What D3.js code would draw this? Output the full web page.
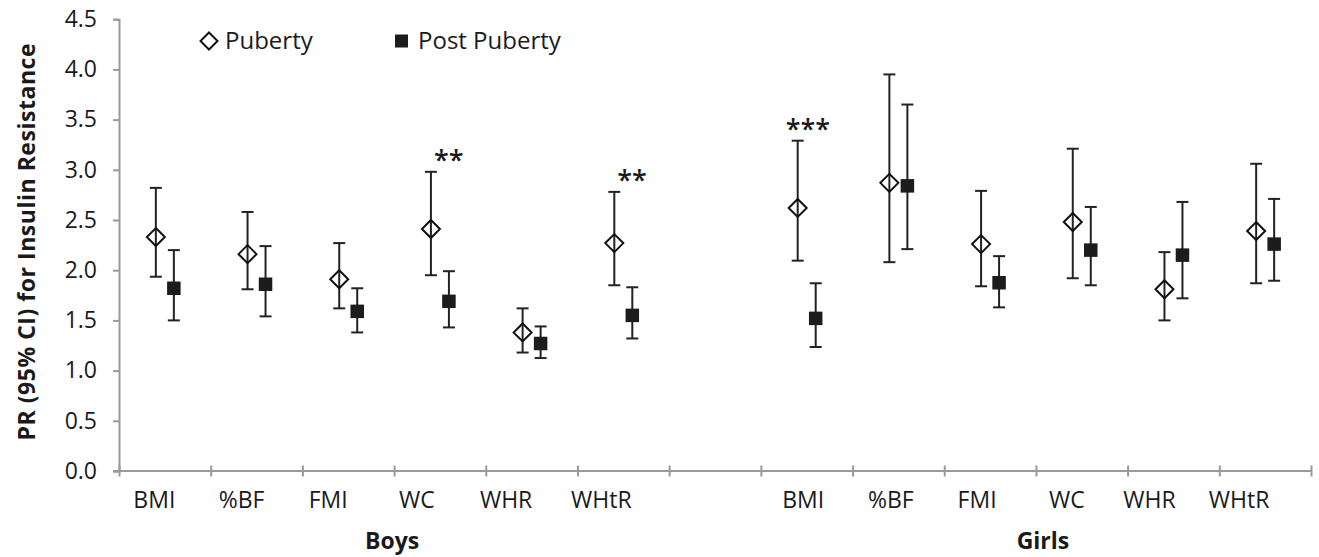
<!DOCTYPE html>
<html>
<head>
<meta charset="utf-8">
<script src="https://cdn.jsdelivr.net/npm/d3@7"></script>
<style>
  html, body { margin: 0; padding: 0; background: #fff; }
  svg { display: block; font-family: "Open Sans", "Noto Sans", sans-serif; }
</style>
</head>
<body>
<svg id="chart" width="1319" height="557"></svg>
<script>
// ---------- data ----------
const groups = ["Boys", "Girls"];
const measures = ["BMI", "%BF", "FMI", "WC", "WHR", "WHtR"];
const seriesNames = ["Puberty", "Post Puberty"];

const boysPuberty   = [2.33, 2.16, 1.91, 2.41, 1.38, 2.27];
const boysPubertyLo = [1.935, 1.81, 1.62, 1.95, 1.18, 1.85];
const boysPubertyHi = [2.82, 2.58, 2.27, 2.98, 1.62, 2.78];
const boysPost      = [1.82, 1.86, 1.59, 1.69, 1.27, 1.55];
const boysPostLo    = [1.50, 1.54, 1.38, 1.43, 1.125, 1.32];
const boysPostHi    = [2.20, 2.24, 1.82, 1.99, 1.44, 1.83];

const girlsPuberty   = [2.62, 2.87, 2.26, 2.48, 1.81, 2.39];
const girlsPubertyLo = [2.095, 2.08, 1.84, 1.92, 1.50, 1.87];
const girlsPubertyHi = [3.29, 3.95, 2.79, 3.21, 2.18, 3.06];
const girlsPost      = [1.52, 2.84, 1.875, 2.20, 2.15, 2.26];
const girlsPostLo    = [1.235, 2.21, 1.63, 1.85, 1.72, 1.895];
const girlsPostHi    = [1.87, 3.65, 2.14, 2.63, 2.68, 2.71];

const yTickValues = [0, 0.5, 1.0, 1.5, 2.0, 2.5, 3.0, 3.5, 4.0, 4.5];
const significance = [
  { group: "Boys",  measure: "WC",   label: "**"  },
  { group: "Boys",  measure: "WHtR", label: "**"  },
  { group: "Girls", measure: "BMI",  label: "***" }
];
const yTitle = "PR (95% CI) for Insulin Resistance";

// ---------- layout (not data) ----------
const plotLeft = 119, plotRight = 1311, plotTop = 19.2, plotBottom = 471;
const seriesOffset = 9;
const labelNudge = { Boys: [-10.5, -15, -20, -23, -25.5, -22], Girls: [-3.5, -7.5, -13, -15, -24, -26] };
const sigNudge = [3, 3, -12];
const groupTitleNudge = { Boys: -2, Girls: 7 };
const axisColor = "#9a9a9a";
const inkColor = "#1a1a1a";

// ---------- build rows ----------
const seriesData = {
  Boys:  [[boysPuberty, boysPubertyLo, boysPubertyHi], [boysPost, boysPostLo, boysPostHi]],
  Girls: [[girlsPuberty, girlsPubertyLo, girlsPubertyHi], [girlsPost, girlsPostLo, girlsPostHi]]
};
const rows = [];
groups.forEach(g => {
  seriesData[g].forEach((s, si) => {
    measures.forEach((m, i) => {
      rows.push({ group: g, measure: m, series: si, value: s[0][i], lo: s[1][i], hi: s[2][i] });
    });
  });
});

const keys = [];
measures.forEach(m => keys.push("Boys|" + m));
keys.push("gap");
measures.forEach(m => keys.push("Girls|" + m));

// ---------- scales ----------
const svg = d3.select("#chart");
const x = d3.scaleBand().domain(keys).range([plotLeft, plotRight]).paddingInner(0).paddingOuter(0);
const y = d3.scaleLinear().domain([0, 4.5]).range([plotBottom, plotTop]);
const edge = d3.scaleLinear().domain([0, keys.length]).range([plotLeft, plotRight]);
const cx = d => x(d.group + "|" + d.measure) + x.bandwidth() / 2 + (d.series === 0 ? -seriesOffset : seriesOffset);

// ---------- y axis ----------
const yAxis = svg.append("g")
  .attr("transform", `translate(${plotLeft},0)`)
  .call(d3.axisLeft(y).tickValues(yTickValues).tickFormat(d3.format(".1f")).tickSize(6).tickPadding(16));
yAxis.select(".domain").attr("stroke", axisColor).attr("stroke-width", 2);
yAxis.selectAll(".tick line").attr("stroke", axisColor).attr("stroke-width", 2);
yAxis.selectAll(".tick text").attr("fill", inkColor).style("font-size", "23px")
  .style("font-family", '"Open Sans", sans-serif');

// ---------- x axis ----------
const xAxis = svg.append("g")
  .attr("transform", `translate(0,${plotBottom})`)
  .call(d3.axisBottom(edge).tickValues(d3.range(keys.length + 1)).tickSize(6).tickFormat(""));
xAxis.select(".domain").attr("stroke", axisColor).attr("stroke-width", 2)
  .attr("d", `M${plotLeft - 6},0H${plotRight}`);
xAxis.selectAll(".tick line").attr("stroke", axisColor).attr("stroke-width", 2).attr("y1", -5.5).attr("y2", 5.5);

// category labels
groups.forEach(g => {
  svg.append("g").selectAll("text")
    .data(measures)
    .join("text")
    .attr("x", (m, i) => x(g + "|" + m) + x.bandwidth() / 2 + labelNudge[g][i])
    .attr("y", 508)
    .attr("text-anchor", "middle")
    .attr("fill", inkColor)
    .style("font-size", "23px")
    .text(m => m);
  const first = x(g + "|" + measures[0]);
  const last = x(g + "|" + measures[measures.length - 1]) + x.bandwidth();
  svg.append("text")
    .attr("x", (first + last) / 2 + groupTitleNudge[g])
    .attr("y", 549)
    .attr("text-anchor", "middle")
    .attr("fill", inkColor)
    .style("font-size", "23px")
    .style("font-weight", "bold")
    .text(g);
});

// y title
svg.append("text")
  .attr("transform", `translate(35,242) rotate(-90)`)
  .attr("text-anchor", "middle")
  .attr("fill", inkColor)
  .style("font-size", "23px")
  .style("font-weight", "bold")
  .attr("textLength", 397)
  .attr("lengthAdjust", "spacing")
  .text(yTitle);

// ---------- error bars ----------
const capHalf = 6;
const eb = svg.append("g").attr("stroke", "#222").attr("stroke-width", 2).attr("fill", "none");
rows.forEach(d => {
  const px = cx(d);
  eb.append("line").attr("x1", px).attr("x2", px).attr("y1", y(d.hi)).attr("y2", y(d.lo));
  eb.append("line").attr("x1", px - capHalf).attr("x2", px + capHalf).attr("y1", y(d.hi)).attr("y2", y(d.hi));
  eb.append("line").attr("x1", px - capHalf).attr("x2", px + capHalf).attr("y1", y(d.lo)).attr("y2", y(d.lo));
});

// ---------- markers ----------
const diamondPath = (px, py, r) => `M${px},${py - r}L${px + r},${py}L${px},${py + r}L${px - r},${py}Z`;
svg.append("g").selectAll("path")
  .data(rows.filter(d => d.series === 0))
  .join("path")
  .attr("d", d => diamondPath(cx(d), y(d.value), 9))
  .attr("fill", "none")
  .attr("stroke", "#111")
  .attr("stroke-width", 2);
const sq = 13.5;
svg.append("g").selectAll("rect")
  .data(rows.filter(d => d.series === 1))
  .join("rect")
  .attr("x", d => cx(d) - sq / 2)
  .attr("y", d => y(d.value) - sq / 2)
  .attr("width", sq)
  .attr("height", sq)
  .attr("fill", "#1c1c1c");

// ---------- significance ----------
svg.append("g").selectAll("text")
  .data(significance)
  .join("text")
  .attr("x", (d, i) => cx({ group: d.group, measure: d.measure, series: 0 }) + sigNudge[i])
  .attr("y", d => {
    const r = rows.find(r => r.group === d.group && r.measure === d.measure && r.series === 0);
    return y(r.hi) - 2;
  })
  .attr("fill", inkColor)
  .style("font-size", "27px")
  .style("font-weight", "600")
  .text(d => d.label);

// ---------- legend ----------
const legend = svg.append("g");
legend.append("path").attr("d", diamondPath(209, 41, 8.5)).attr("fill", "none").attr("stroke", "#111").attr("stroke-width", 2);
legend.append("text").attr("x", 225).attr("y", 48.5).attr("fill", inkColor).style("font-size", "24px").text(seriesNames[0]);
legend.append("rect").attr("x", 395).attr("y", 34.5).attr("width", 13).attr("height", 13).attr("fill", "#1c1c1c");
legend.append("text").attr("x", 418).attr("y", 48.5).attr("fill", inkColor).style("font-size", "24px").text(seriesNames[1]);
</script>
</body>
</html>
